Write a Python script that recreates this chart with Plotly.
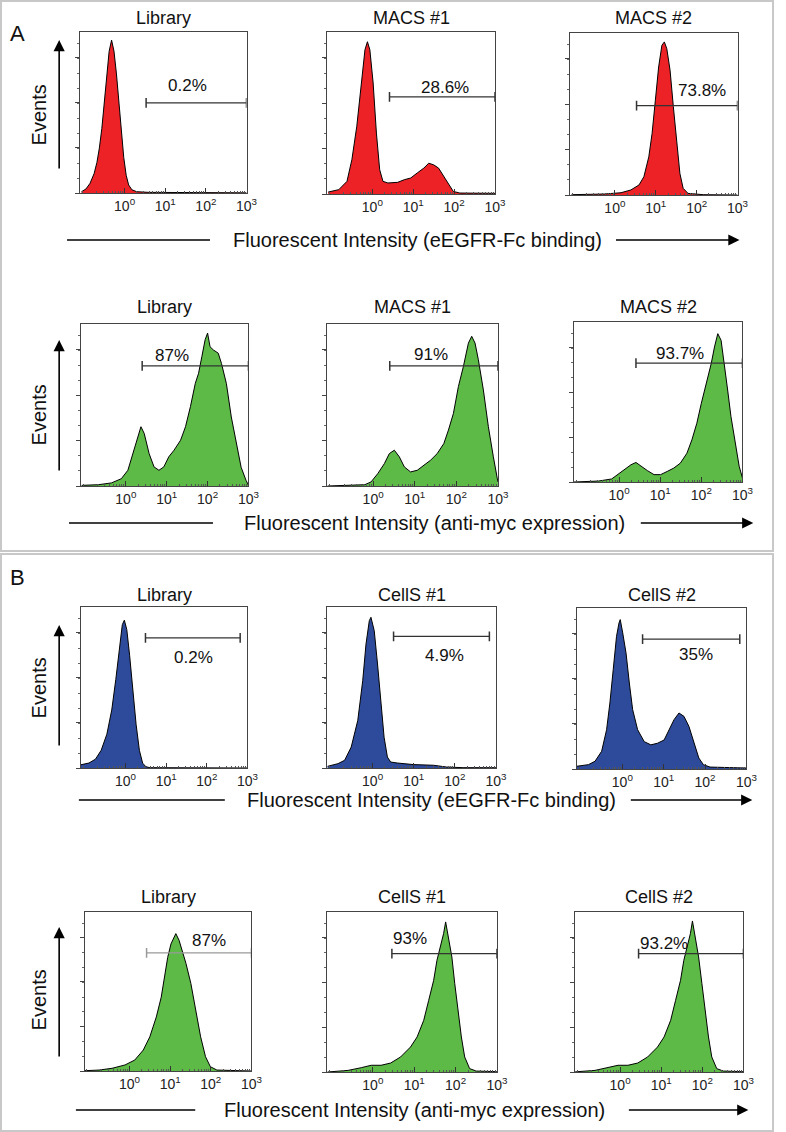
import numpy as np
import plotly.graph_objects as go

# histogram curves: x in log10 units of fluorescence, y in % of panel height
a_bind_lib_x = [-1.06, -0.95, -0.85, -0.75, -0.68, -0.62, -0.56, -0.5, -0.44, -0.38, -0.32, -0.26, -0.2, -0.14, -0.08, -0.02, 0.04, 0.1, 0.18, 0.3, 0.6, 1.2, 2.0, 3.0]
a_bind_lib_y = [0.8, 2.5, 6, 12, 19, 28, 40, 55, 72, 88, 95, 88, 74, 56, 38, 22, 11, 5, 2, 0.8, 0.4, 0.3, 0.2, 0.1]

a_bind_m1_x = [-1.08, -0.82, -0.62, -0.5, -0.38, -0.26, -0.18, -0.12, -0.06, 0.02, 0.1, 0.18, 0.26, 0.38, 0.62, 0.78, 0.94, 1.1, 1.26, 1.38, 1.5, 1.62, 1.74, 1.86, 1.98, 2.14, 3.0]
a_bind_m1_y = [1.2, 2.7, 7.8, 21.2, 41.8, 72.6, 89, 94, 89, 68.5, 37.6, 15, 7.8, 6.8, 7.2, 8.8, 9.9, 13, 16, 19, 18, 16, 10.9, 5.8, 1.6, 0.6, 0.4]

a_bind_m2_x = [-1.06, -0.26, 0.15, 0.39, 0.59, 0.71, 0.83, 0.91, 0.99, 1.07, 1.15, 1.21, 1.27, 1.35, 1.43, 1.51, 1.59, 1.67, 1.79, 2.16, 3.0]
a_bind_m2_y = [0.2, 0.6, 1.4, 3.1, 6.2, 11.3, 23.6, 38, 58.5, 79, 92.4, 94.5, 90.3, 77, 54.6, 32, 13.3, 4.1, 1, 0.2, 0]

a_myc_lib_x = [-1.08, -0.67, -0.35, -0.11, 0.05, 0.17, 0.29, 0.37, 0.45, 0.57, 0.69, 0.81, 0.93, 1.05, 1.18, 1.34, 1.46, 1.58, 1.7, 1.78, 1.86, 1.94, 2.0, 2.06, 2.14, 2.26, 2.34, 2.46, 2.58, 2.7, 2.82, 2.94, 3.0]
a_myc_lib_y = [0.4, 0.8, 1.9, 4.5, 9.7, 20, 30.4, 36.6, 32.4, 20, 11.8, 9.7, 11.8, 18, 22.1, 28.3, 36.6, 49, 63.4, 69.6, 79.9, 90.3, 94.4, 86, 84, 82, 75.6, 63.2, 42.6, 26, 11.6, 3.5, 0.5]

a_myc_m1_x = [-1.1, -0.6, -0.2, -0.05, 0.11, 0.27, 0.39, 0.51, 0.63, 0.75, 0.9, 1.06, 1.22, 1.38, 1.54, 1.7, 1.81, 1.93, 2.05, 2.17, 2.29, 2.37, 2.45, 2.53, 2.65, 2.77, 2.89, 2.97, 3.0]
a_myc_m1_y = [0, 0.2, 0.8, 2.5, 7.6, 13.8, 20, 22.1, 18, 11.8, 8.7, 9.7, 12.8, 15.9, 20, 26.2, 34.5, 44.8, 61.4, 73.8, 88.2, 92.4, 88.2, 77.9, 59.3, 36.6, 18, 7.6, 2.5]

a_myc_m2_x = [-1.1, -0.5, -0.18, -0.03, 0.13, 0.29, 0.41, 0.53, 0.69, 0.85, 1.01, 1.17, 1.33, 1.49, 1.65, 1.77, 1.89, 2.0, 2.12, 2.24, 2.32, 2.4, 2.48, 2.56, 2.64, 2.72, 2.84, 2.92, 3.0]
a_myc_m2_y = [0, 0.6, 1.9, 4.6, 7.7, 10.8, 12.2, 9.8, 7.1, 4.6, 4.6, 6.6, 8.7, 11.8, 18, 26.3, 36.7, 49.2, 61.6, 74, 84.4, 92.7, 88.6, 74, 57.5, 41, 22.4, 9.8, 2.5]

b_bind_lib_x = [-1.1, -0.9, -0.74, -0.6, -0.46, -0.34, -0.24, -0.15, -0.08, -0.03, 0.03, 0.1, 0.18, 0.26, 0.34, 0.42, 0.5, 0.6, 3.0]
b_bind_lib_y = [2, 3.1, 5.5, 11, 21, 36, 55, 76, 89, 91.8, 86, 70, 49, 27, 11, 3, 0.8, 0.2, 0]

b_bind_c1_x = [-1.1, -0.84, -0.68, -0.52, -0.36, -0.24, -0.16, -0.08, -0.04, 0.04, 0.12, 0.2, 0.28, 0.36, 0.44, 0.6, 1.0, 1.48, 1.8, 2.2, 3.0]
b_bind_c1_y = [1, 2.7, 4.8, 13, 29.6, 54.3, 77, 91.5, 93.6, 85.3, 64.6, 39.8, 19.1, 6.8, 3.7, 3.1, 2.1, 1.7, 0.6, 0.2, 0.2]

b_bind_c2_x = [-1.1, -0.82, -0.66, -0.5, -0.38, -0.3, -0.22, -0.14, -0.08, -0.05, 0.01, 0.09, 0.17, 0.25, 0.37, 0.53, 0.69, 0.85, 1.01, 1.13, 1.25, 1.37, 1.49, 1.61, 1.73, 1.85, 1.96, 2.12, 3.0]
b_bind_c2_y = [1.7, 2.7, 4.8, 11, 24.4, 41, 61.7, 82.4, 90.7, 92.8, 84.5, 72, 53.4, 36.9, 24.4, 17, 15, 16, 18, 24.4, 30.6, 34.8, 32.7, 26.5, 16, 6.8, 2.7, 1.2, 0.6]

b_myc_lib_x = [-1.1, -0.75, -0.43, -0.11, 0.13, 0.34, 0.5, 0.66, 0.78, 0.86, 0.94, 1.02, 1.1, 1.14, 1.22, 1.3, 1.39, 1.51, 1.63, 1.75, 1.87, 1.99, 2.15, 2.48, 3.0]
b_myc_lib_y = [0.2, 0.6, 1.7, 3.8, 6.9, 13.2, 21.5, 34, 46.4, 59, 71.5, 79.9, 84.1, 86.4, 82.2, 75.9, 67.6, 55, 38.3, 21.5, 9, 2.7, 0.6, 0.2, 0]

b_myc_c1_x = [-1.1, -1.0, -0.6, -0.28, -0.04, 0.2, 0.43, 0.67, 0.91, 1.07, 1.23, 1.35, 1.47, 1.55, 1.63, 1.71, 1.76, 1.83, 1.91, 1.98, 2.06, 2.14, 2.22, 2.34, 2.5, 3.0]
b_myc_c1_y = [0, 0.2, 1, 2.7, 4.2, 4.2, 5.6, 9.4, 15.6, 21.9, 32.3, 44.8, 57.3, 69.8, 78.1, 86.5, 93.8, 84.4, 71.9, 55.2, 38.5, 21.9, 9.4, 2.1, 0.6, 0.2]

b_myc_c2_x = [-1.1, -1.04, -0.61, -0.29, -0.05, 0.19, 0.43, 0.67, 0.91, 1.07, 1.23, 1.35, 1.47, 1.55, 1.63, 1.71, 1.76, 1.83, 1.91, 1.99, 2.07, 2.15, 2.23, 2.35, 2.51, 3.0]
b_myc_c2_y = [0, 0.2, 1, 2.7, 4.2, 4.2, 5.6, 9.4, 15.6, 21.9, 32.3, 44.8, 57.3, 69.8, 78.1, 86.5, 94.4, 84.4, 71.9, 55.2, 38.5, 21.9, 9.4, 2.1, 0.6, 0.2]

titles = ["Library", "MACS #1", "MACS #2",
          "Library", "MACS #1", "MACS #2",
          "Library", "CellS #1", "CellS #2",
          "Library", "CellS #1", "CellS #2"]

# gates (log10 start, log10 end, height %) and percentage labels
gate_start = [0.53, 0.42, 0.53, 0.4, 0.4, 0.41, 0.49, 0.51, 0.49, 0.42, 0.46, 0.45]
gate_end = [3.0, 3.0, 3.0, 3.0, 3.0, 3.0, 2.82, 2.84, 2.84, 3.0, 3.0, 3.0]
gate_y = [56, 59.9, 55.2, 74.2, 74.2, 74.3, 80.8, 81.8, 80.7, 74.3, 74, 74]
pct_labels = ["0.2%", "28.6%", "73.8%", "87%", "91%", "93.7%",
              "0.2%", "4.9%", "35%", "87%", "93%", "93.2%"]
pct_x = [1.54, 1.78, 2.14, 1.14, 1.38, 1.47, 1.67, 1.76, 1.77, 1.95, 0.91, 1.07]
pct_y = [66.7, 66, 64.7, 80.6, 81, 80.3, 68.5, 70, 71, 81.8, 83.3, 80.2]

row_captions = ["Fluorescent Intensity (eEGFR-Fc binding)",
                "Fluorescent Intensity (anti-myc expression)",
                "Fluorescent Intensity (eEGFR-Fc binding)",
                "Fluorescent Intensity (anti-myc expression)"]

curves = [(a_bind_lib_x, a_bind_lib_y), (a_bind_m1_x, a_bind_m1_y), (a_bind_m2_x, a_bind_m2_y),
          (a_myc_lib_x, a_myc_lib_y), (a_myc_m1_x, a_myc_m1_y), (a_myc_m2_x, a_myc_m2_y),
          (b_bind_lib_x, b_bind_lib_y), (b_bind_c1_x, b_bind_c1_y), (b_bind_c2_x, b_bind_c2_y),
          (b_myc_lib_x, b_myc_lib_y), (b_myc_c1_x, b_myc_c1_y), (b_myc_c2_x, b_myc_c2_y)]

RED = "#EC2227"
GREEN = "#5DBA47"
BLUE = "#2E4B9B"
fills = [RED] * 3 + [GREEN] * 3 + [BLUE] * 3 + [GREEN] * 3
gate_colors = ["#333333"] * 9 + ["#999999", "#333333", "#333333"]

W, H = 786, 1132
FONT = "Liberation Sans, Arial, sans-serif"

# plot boxes in pixels: left, top, right, bottom
boxes = [(81, 32, 250, 193), (332, 32, 502, 194), (578, 33, 748, 195),
         (82, 324, 252, 486), (332, 324, 505, 486), (582, 322, 753, 482),
         (82, 607, 251, 768), (332, 607, 503, 768), (585, 608, 757, 769),
         (86, 912, 255, 1071), (332, 912, 504, 1072), (583, 912, 754, 1072)]
title_y = [18, 307, 595, 897]

def px(x):
    return x / W

def py(y):
    return 1 - y / H

def label(x, y, text, size, **kw):
    return dict(x=px(x), y=py(y), xref="paper", yref="paper", text=text, showarrow=False,
                xanchor="center", yanchor="middle", font=dict(size=size, color="#111"), **kw)

fig = go.Figure()
annotations = []
shapes = []
minor_vals = [m * 10.0 ** d for d in range(-2, 3) for m in range(2, 10)]

for i in range(12):
    n = i + 1
    xa = "x" if n == 1 else f"x{n}"
    ya = "y" if n == 1 else f"y{n}"
    cx, cy = curves[i]
    fig.add_trace(go.Scatter(x=10 ** np.array(cx), y=cy, mode="lines", fill="tozeroy",
                             fillcolor=fills[i], line=dict(color="black", width=1),
                             xaxis=xa, yaxis=ya, showlegend=False, hoverinfo="skip"))
    fig.add_trace(go.Scatter(x=[10 ** gate_start[i], 10 ** gate_end[i]], y=[gate_y[i], gate_y[i]],
                             mode="lines+markers", line=dict(color=gate_colors[i], width=1.3),
                             marker=dict(symbol="line-ns", size=7, line=dict(color=gate_colors[i], width=1.5)),
                             xaxis=xa, yaxis=ya, showlegend=False, hoverinfo="skip"))
    l, t, r, b = boxes[i]
    xkey = "xaxis" if n == 1 else f"xaxis{n}"
    ykey = "yaxis" if n == 1 else f"yaxis{n}"
    fig.update_layout({
        xkey: dict(domain=[px(l), px(r)], anchor=ya, type="log", range=[-1.1, 3],
                   tickmode="array", tickvals=[1, 10, 100, 1000],
                   ticktext=["10<sup>0</sup>", "10<sup>1</sup>", "10<sup>2</sup>", "10<sup>3</sup>"],
                   ticks="inside", ticklen=5, tickcolor="#333", showgrid=False, zeroline=False,
                   showline=True, linecolor="#444", linewidth=1, mirror=True,
                   minor=dict(tickmode="array", tickvals=minor_vals, ticks="inside", ticklen=2,
                              tickcolor="#555", showgrid=False),
                   tickfont=dict(size=14, color="#222", family=FONT), fixedrange=True),
        ykey: dict(domain=[py(b), py(t)], anchor=xa, range=[0, 100],
                   ticks="outside", ticklen=4, dtick=28, tickcolor="#444", showticklabels=False,
                   showgrid=False, zeroline=False, showline=True, linecolor="#444", linewidth=1,
                   mirror=True, minor=dict(dtick=9.3, ticks="outside", ticklen=2, tickcolor="#666"),
                   fixedrange=True),
    })
    annotations.append(label((l + r) / 2, title_y[i // 3], titles[i], 18))
    annotations.append(dict(x=pct_x[i], y=pct_y[i], xref=xa, yref=ya, text=pct_labels[i],
                            xanchor="center", yanchor="middle",
                            showarrow=False, font=dict(size=17, color="#111")))

# row captions with a plain line on the left and an arrow on the right
cap_y = [240, 523, 800, 1110]
cap_left = [(68, 213), (70, 216), (80, 228), (77, 198)]
cap_text_x = [423, 441, 438, 420]
cap_arrow = [(625, 750), (650, 764), (640, 763), (638, 759)]
for k in range(4):
    shapes.append(dict(type="line", xref="paper", yref="paper", x0=px(cap_left[k][0]), x1=px(cap_left[k][1]),
                       y0=py(cap_y[k]), y1=py(cap_y[k]), line=dict(color="black", width=1.5)))
    annotations.append(label(cap_text_x[k], cap_y[k], row_captions[k], 20))
    a0, a1 = cap_arrow[k]
    annotations.append(dict(x=px(a1), y=py(cap_y[k]), xref="paper", yref="paper", text="",
                            showarrow=True, ax=a0 - a1, ay=0, arrowhead=2, arrowsize=1.4,
                            arrowwidth=1.6, arrowcolor="black"))

# "Events" labels and vertical arrows
ev_y = [115, 415, 688, 1000]
ev_arrow = [(170, 40), (472, 340), (747, 625), (1058, 927)]
for k in range(4):
    annotations.append(label(40, ev_y[k], "Events", 20, textangle=-90))
    b0, b1 = ev_arrow[k]
    annotations.append(dict(x=px(60), y=py(b1), xref="paper", yref="paper", text="",
                            showarrow=True, ax=0, ay=b0 - b1, arrowhead=2, arrowsize=1.4,
                            arrowwidth=1.6, arrowcolor="black"))

annotations.append(label(18, 34, "A", 22))
annotations.append(label(18, 577, "B", 22))

# panel frames
shapes.append(dict(type="rect", xref="paper", yref="paper", x0=px(1), x1=px(784), y0=py(551), y1=py(1),
                   line=dict(color="#C8C8C8", width=2)))
shapes.append(dict(type="rect", xref="paper", yref="paper", x0=px(1), x1=px(784), y0=py(1131), y1=py(554),
                   line=dict(color="#C8C8C8", width=2)))

fig.update_layout(width=W, height=H, margin=dict(l=0, r=0, t=0, b=0),
                  paper_bgcolor="white", plot_bgcolor="white",
                  font=dict(family=FONT, color="#111"),
                  annotations=annotations, shapes=shapes, showlegend=False)

# drop the default page margin so the figure sits at the window corner
fig.write_html("out.html", config={"displayModeBar": False},
               post_script="document.body.style.margin='0';")
